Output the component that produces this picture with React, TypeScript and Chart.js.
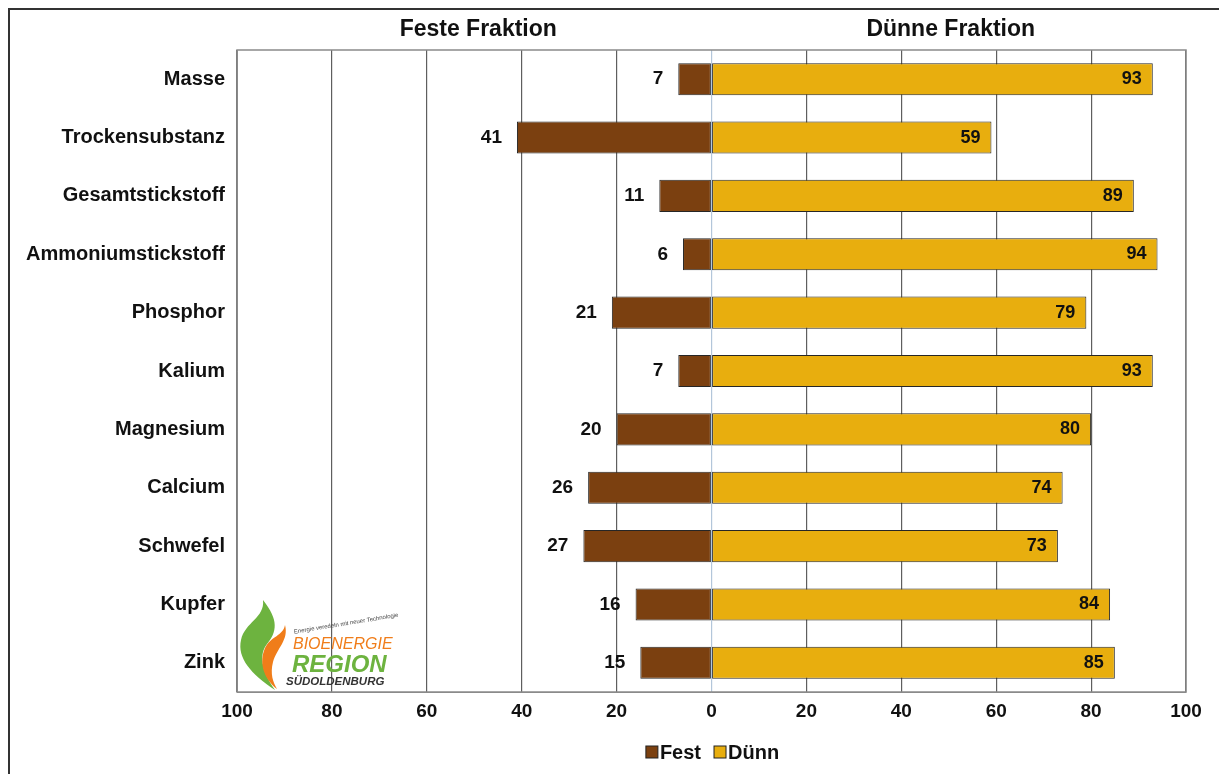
import React, { useEffect, useRef } from "react";
import { Chart, registerables } from "chart.js";

Chart.register(...registerables);

const categories = [
  "Masse",
  "Trockensubstanz",
  "Gesamtstickstoff",
  "Ammoniumstickstoff",
  "Phosphor",
  "Kalium",
  "Magnesium",
  "Calcium",
  "Schwefel",
  "Kupfer",
  "Zink",
];
const festValues = [7, 41, 11, 6, 21, 7, 20, 26, 27, 16, 15];
const duennValues = [93, 59, 89, 94, 79, 93, 80, 74, 73, 84, 85];
const seriesNames = ["Fest", "Dünn"];
const panelTitles = ["Feste Fraktion", "Dünne Fraktion"];
const logoLines = ["BIOENERGIE", "REGION", "SÜDOLDENBURG", "Energie veredeln mit neuer Technologie"];

const FONT = "'Liberation Sans', Arial, sans-serif";
const FEST_COLOR = "#7b4010";
const DUENN_COLOR = "#e8ae0e";

const decorPlugin = {
  id: "decor",
  beforeDraw(chart: any) {
    const ctx = chart.ctx;
    ctx.save();
    ctx.fillStyle = "#ffffff";
    ctx.fillRect(0, 0, chart.width, chart.height);
    ctx.strokeStyle = "#333333";
    ctx.lineWidth = 2;
    ctx.beginPath();
    ctx.moveTo(9, chart.height);
    ctx.lineTo(9, 9);
    ctx.lineTo(chart.width, 9);
    ctx.stroke();
    ctx.restore();
  },
  afterDatasetsDraw(chart: any) {
    const ctx = chart.ctx;
    const area = chart.chartArea;
    const xs = chart.scales.x;
    ctx.save();
    // plot frame
    ctx.strokeStyle = "#8a8a8a";
    ctx.lineWidth = 1.5;
    ctx.strokeRect(area.left, area.top, area.right - area.left, area.bottom - area.top);

    // data labels
    ctx.fillStyle = "#111111";
    ctx.textBaseline = "middle";
    ctx.textAlign = "right";
    const m0 = chart.getDatasetMeta(0);
    const m1 = chart.getDatasetMeta(1);
    ctx.font = `bold 19px ${FONT}`;
    m0.data.forEach((el: any, i: number) => {
      ctx.fillText(String(festValues[i]), el.x - 15, el.y);
    });
    ctx.font = `bold 18px ${FONT}`;
    m1.data.forEach((el: any, i: number) => {
      ctx.fillText(String(duennValues[i]), el.x - 11, el.y);
    });

    // panel titles
    ctx.font = `bold 23px ${FONT}`;
    ctx.textAlign = "center";
    ctx.fillText(panelTitles[0], (xs.getPixelForValue(-100) + xs.getPixelForValue(0)) / 2 + 4, 30);
    ctx.fillText(panelTitles[1], (xs.getPixelForValue(0) + xs.getPixelForValue(100)) / 2 + 2, 30);

    // legend
    const ly = 752;
    const items = [
      { label: seriesNames[0], color: FEST_COLOR },
      { label: seriesNames[1], color: DUENN_COLOR },
    ];
    ctx.font = `bold 20px ${FONT}`;
    const gap = 13;
    const box = 12;
    const widths = items.map((it) => box + 2 + ctx.measureText(it.label).width);
    const total = widths[0] + widths[1] + gap;
    let lx = xs.getPixelForValue(0) + 1 - total / 2;
    ctx.textAlign = "left";
    items.forEach((it, i) => {
      ctx.fillStyle = it.color;
      ctx.fillRect(lx, ly - box / 2, box, box);
      ctx.strokeStyle = "#222";
      ctx.lineWidth = 1;
      ctx.strokeRect(lx, ly - box / 2, box, box);
      ctx.fillStyle = "#111";
      ctx.fillText(it.label, lx + box + 2, ly + 1);
      lx += widths[i] + gap;
    });

    // logo
    const bx = area.left;
    const by = area.bottom;
    ctx.fillStyle = "#6db33f";
    ctx.beginPath();
    ctx.moveTo(bx + 26, by - 92);
    ctx.bezierCurveTo(bx + 42, by - 72, bx + 40, by - 60, bx + 30, by - 48);
    ctx.bezierCurveTo(bx + 22, by - 38, bx + 24, by - 22, bx + 38, by - 2);
    ctx.bezierCurveTo(bx + 14, by - 18, bx + 0, by - 34, bx + 4, by - 52);
    ctx.bezierCurveTo(bx + 8, by - 70, bx + 28, by - 74, bx + 26, by - 92);
    ctx.fill();
    ctx.fillStyle = "#f07d1a";
    ctx.beginPath();
    ctx.moveTo(bx + 48, by - 67);
    ctx.bezierCurveTo(bx + 52, by - 52, bx + 40, by - 44, bx + 36, by - 30);
    ctx.bezierCurveTo(bx + 33, by - 18, bx + 36, by - 10, bx + 40, by - 3);
    ctx.bezierCurveTo(bx + 26, by - 14, bx + 22, by - 30, bx + 28, by - 44);
    ctx.bezierCurveTo(bx + 34, by - 56, bx + 46, by - 56, bx + 48, by - 67);
    ctx.fill();
    ctx.font = `italic 16px ${FONT}`;
    ctx.fillStyle = "#f07d1a";
    ctx.fillText(logoLines[0], bx + 56, by - 47);
    ctx.font = `bold italic 24px ${FONT}`;
    ctx.fillStyle = "#6db33f";
    ctx.fillText(logoLines[1], bx + 55, by - 27);
    ctx.font = `bold italic 11.5px ${FONT}`;
    ctx.fillStyle = "#333";
    ctx.fillText(logoLines[2], bx + 49, by - 10);
    ctx.save();
    ctx.translate(bx + 57, by - 60);
    ctx.rotate(-0.16);
    ctx.font = `6px ${FONT}`;
    ctx.fillStyle = "#444";
    ctx.fillText(logoLines[3], 0, 0);
    ctx.restore();

    ctx.restore();
  },
};

export default function App() {
  const ref = useRef<HTMLCanvasElement | null>(null);
  useEffect(() => {
    if (!ref.current) return;
    const chart = new Chart(ref.current, {
      type: "bar",
      data: {
        labels: categories,
        datasets: [
          {
            label: seriesNames[0],
            data: festValues.map((v) => -v),
            backgroundColor: FEST_COLOR,
            borderColor: "#262626",
            borderWidth: 1,
            borderSkipped: false,
            barPercentage: 0.55,
            categoryPercentage: 1,
          },
          {
            label: seriesNames[1],
            data: duennValues,
            backgroundColor: DUENN_COLOR,
            borderColor: "#262626",
            borderWidth: 1,
            borderSkipped: false,
            barPercentage: 0.55,
            categoryPercentage: 1,
          },
        ],
      },
      options: {
        indexAxis: "y",
        responsive: false,
        animation: false,
        layout: { padding: { top: 50, right: 33, left: 0, bottom: 0 } },
        plugins: {
          legend: { display: false },
          tooltip: { enabled: false },
          title: { display: false },
        },
        scales: {
          x: {
            min: -100,
            max: 100,
            stacked: true,
            afterFit(scale: any) {
              scale.height = 82;
            },
            ticks: {
              stepSize: 20,
              padding: 8,
              color: "#111",
              font: { family: FONT, size: 19, weight: "bold" },
              callback: (v: any) => String(Math.abs(Number(v))),
            },
            grid: {
              drawTicks: false,
              color: (c: any) => (c.tick && c.tick.value === 0 ? "#b3c6da" : "#5e5e5e"),
              lineWidth: 1.2,
            },
            border: { display: true, color: "#8a8a8a" },
          },
          y: {
            stacked: true,
            afterFit(scale: any) {
              scale.width = 237;
            },
            ticks: {
              padding: 12,
              color: "#111",
              font: { family: FONT, size: 20, weight: "bold" },
            },
            grid: { display: false, drawTicks: false },
            border: { display: true, color: "#8a8a8a" },
          },
        },
      },
      plugins: [decorPlugin],
    } as any);
    return () => chart.destroy();
  }, []);
  return (
    <div style={{ position: "absolute", left: 0, top: 0, width: 1219, height: 774 }}>
      <canvas ref={ref} width={1219} height={774} style={{ width: 1219, height: 774 }} />
    </div>
  );
}
